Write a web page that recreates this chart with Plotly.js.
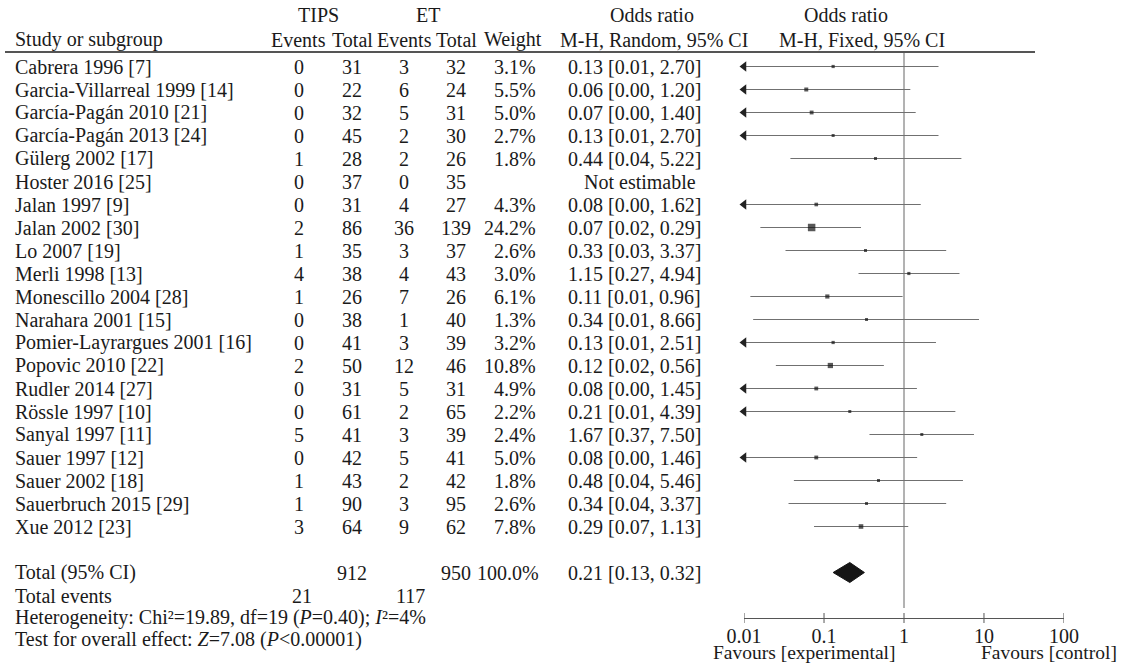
<!DOCTYPE html>
<html><head><meta charset="utf-8">
<script src="https://cdn.plot.ly/plotly-3.0.1.min.js"></script>
<style>html,body{margin:0;padding:0;background:#fff}#chart{width:1121px;height:665px}</style>
</head><body><div id="chart"></div>
<script>
// ---------------- data ----------------
const studies = ['Cabrera 1996 [7]','Garcia-Villarreal 1999 [14]','García-Pagán 2010 [21]','García-Pagán 2013 [24]',
  'Gülerg 2002 [17]','Hoster 2016 [25]','Jalan 1997 [9]','Jalan 2002 [30]','Lo 2007 [19]','Merli 1998 [13]',
  'Monescillo 2004 [28]','Narahara 2001 [15]','Pomier-Layrargues 2001 [16]','Popovic 2010 [22]','Rudler 2014 [27]',
  'Rössle 1997 [10]','Sanyal 1997 [11]','Sauer 1997 [12]','Sauer 2002 [18]','Sauerbruch 2015 [29]','Xue 2012 [23]'];
const tipsEvents = [0,0,0,0,1,0,0,2,1,4,1,0,0,2,0,0,5,0,1,1,3];
const tipsTotal  = [31,22,32,45,28,37,31,86,35,38,26,38,41,50,31,61,41,42,43,90,64];
const etEvents   = [3,6,5,2,2,0,4,36,3,4,7,1,3,12,5,2,3,5,2,3,9];
const etTotal    = [32,24,31,30,26,35,27,139,37,43,26,40,39,46,31,65,39,41,42,95,62];
const weights    = [3.1,5.5,5.0,2.7,1.8,null,4.3,24.2,2.6,3.0,6.1,1.3,3.2,10.8,4.9,2.2,2.4,5.0,1.8,2.6,7.8];
const orText = ['0.13 [0.01, 2.70]','0.06 [0.00, 1.20]','0.07 [0.00, 1.40]','0.13 [0.01, 2.70]','0.44 [0.04, 5.22]',
  'Not estimable','0.08 [0.00, 1.62]','0.07 [0.02, 0.29]','0.33 [0.03, 3.37]','1.15 [0.27, 4.94]','0.11 [0.01, 0.96]',
  '0.34 [0.01, 8.66]','0.13 [0.01, 2.51]','0.12 [0.02, 0.56]','0.08 [0.00, 1.45]','0.21 [0.01, 4.39]','1.67 [0.37, 7.50]',
  '0.08 [0.00, 1.46]','0.48 [0.04, 5.46]','0.34 [0.04, 3.37]','0.29 [0.07, 1.13]'];
const orValue = [0.13,0.06,0.07,0.13,0.44,null,0.08,0.07,0.33,1.15,0.11,0.34,0.13,0.12,0.08,0.21,1.67,0.08,0.48,0.34,0.29];
// lower limits as they sit in the picture (below 0.01 => drawn as an arrow)
const ciLower = [0.006,0.003,0.004,0.006,0.038,null,0.004,0.016,0.033,0.27,0.012,0.013,0.007,0.025,0.004,0.008,0.37,0.004,0.042,0.036,0.075];
const ciUpper = [2.70,1.20,1.40,2.70,5.22,null,1.62,0.29,3.37,4.94,0.96,8.66,2.51,0.56,1.45,4.39,7.50,1.46,5.46,3.37,1.13];

const totalLabel = 'Total (95% CI)';
const totalTips = '912', totalEt = '950', totalWeight = '100.0%', totalOrText = '0.21 [0.13, 0.32]';
const pooled = [0.13, 0.21, 0.32];          // lower, estimate, upper
const totalEventsLabel = 'Total events';
const totalEventsTips = '21', totalEventsEt = '117';
const heterogeneity = 'Heterogeneity: Chi²=19.89, df=19 (<i>P</i>=0.40); <i>I</i>²=4%';
const overall = 'Test for overall effect: <i>Z</i>=7.08 (<i>P</i>&lt;0.00001)';
const tickVals = [0.01, 0.1, 1, 10, 100];
const tickText = ['0.01', '0.1', '1', '10', '100'];
const favours = ['Favours [experimental]', 'Favours [control]'];

// ---------------- geometry / style ----------------
const W = 1121, H = 665, ROW = 23, TOP = 66.5;
const yv = px => (TOP - px) / ROW;      // pixel row -> y value
const xp = px => px / W;                // pixel column -> paper
const FONT = 'Liberation Serif, Times New Roman, Times, serif';
const FS = 20, INK = '#1a1a1a';
const X0 = 744, X1 = 1064;               // 0.01 .. 100
const AXIS_Y = 618;

const ann = [];
function t(x, y, text, anchor, size, yanchor, yref) {
  ann.push({xref: 'paper', yref: yref || 'y', x: xp(x), y: y, text: String(text), showarrow: false,
    xanchor: anchor || 'center', yanchor: yanchor || 'middle', font: {family: FONT, size: size || FS, color: INK}});
}
const COL = {name: 13, tE: 299, tT: 352, eE: 404, eT: 456, w: 538, or: 634};

// header
t(318, yv(14.5), 'TIPS'); t(428, yv(14.5), 'ET');
t(652, yv(14.5), 'Odds ratio'); t(846, yv(14.5), 'Odds ratio');
t(COL.name, yv(39.5), 'Study or subgroup', 'left');
t(COL.tE, yv(39.5), 'Events'); t(COL.tT, yv(39.5), 'Total');
t(COL.eE, yv(39.5), 'Events'); t(COL.eT, yv(39.5), 'Total');
t(513, yv(39.5), 'Weight');
t(654, yv(39.5), 'M-H, Random, 95% CI'); t(862, yv(39.5), 'M-H, Fixed, 95% CI');

studies.forEach((s, i) => {
  const y = -i;
  t(COL.name, y, s, 'left');
  t(COL.tE, y, tipsEvents[i]); t(COL.tT, y, tipsTotal[i]);
  t(COL.eE, y, etEvents[i]); t(COL.eT, y, etTotal[i]);
  if (weights[i] !== null) t(COL.w, y, weights[i].toFixed(1) + '%', 'right');
  t(orValue[i] === null ? 640 : COL.or, y, orText[i]);
});
const yTot = -(studies.length + 1);
t(COL.name, yTot, totalLabel, 'left');
t(COL.tT, yTot, totalTips); t(COL.eT, yTot, totalEt);
t(COL.w + 3, yTot, totalWeight, 'right'); t(COL.or, yTot, totalOrText);
t(COL.name, yTot - 1, totalEventsLabel, 'left');
t(COL.tE + 3, yTot - 1, totalEventsTips); t(COL.eE + 6, yTot - 1, totalEventsEt);
t(COL.name, yv(617.5), heterogeneity, 'left');
t(COL.name, yv(639.5), overall, 'left');
t(804, 0, favours[0], 'center', 19.5, 'bottom', 'paper');
t(1119, 0, favours[1], 'right', 19.5, 'bottom', 'paper');

// ---------------- traces ----------------
const ciX = [], ciY = [], arX = [], arY = [], sqX = [], sqY = [], sqS = [];
studies.forEach((s, i) => {
  if (orValue[i] === null) return;
  ciX.push(Math.max(ciLower[i], 0.01), ciUpper[i], null);
  ciY.push(-i, -i, null);
  if (ciLower[i] < 0.01) { arX.push(0.01); arY.push(-i); }
  sqX.push(orValue[i]); sqY.push(-i);
  sqS.push(Math.max(3, 0.8 + 1.36 * Math.sqrt(weights[i])));
});
const dh = 10 / ROW;
const diamond = {
  x: [pooled[0], pooled[1], pooled[2], pooled[1], pooled[0]],
  y: [yTot, yTot + dh, yTot, yTot - dh, yTot],
  mode: 'lines', fill: 'toself', fillcolor: '#151515', line: {color: '#151515', width: 1},
  hoverinfo: 'skip'
};
const tickX = [], tickY = [];
tickVals.forEach(v => { tickX.push(v, v, null); tickY.push(yv(AXIS_Y - 5), yv(AXIS_Y + 5), null); });

const traces = [
  {x: [1, 1], y: [yv(53), yv(608)], mode: 'lines', line: {color: '#666', width: 1}, hoverinfo: 'skip'},
  {x: ciX, y: ciY, mode: 'lines', line: {color: '#707070', width: 1}, hoverinfo: 'skip'},
  {x: arX, y: arY, mode: 'markers', cliponaxis: false,
   marker: {symbol: 'triangle-left', size: 9, color: '#222', line: {width: 0}}, hoverinfo: 'skip'},
  {x: sqX, y: sqY, mode: 'markers', marker: {symbol: 'square', size: sqS, color: '#111', line: {width: 0}}, hoverinfo: 'skip'},
  diamond,
  {x: tickX, y: tickY, mode: 'lines', cliponaxis: false, line: {color: '#555', width: 1}, hoverinfo: 'skip'}
];

const layout = {
  width: W, height: H, margin: {l: 0, r: 0, t: 0, b: 0, pad: 0},
  paper_bgcolor: '#fff', plot_bgcolor: 'rgba(0,0,0,0)', showlegend: false,
  xaxis: {type: 'log', range: [Math.log10(0.00999), Math.log10(100.1)], domain: [xp(X0), xp(X1)],
    anchor: 'free', position: (H - AXIS_Y) / H, showline: true, linecolor: '#555', linewidth: 1,
    ticks: '', tickmode: 'array', tickvals: tickVals, ticktext: tickText, ticklabelstandoff: 0,
    tickfont: {family: FONT, size: FS, color: INK}, showgrid: false, zeroline: false, fixedrange: true},
  yaxis: {range: [yv(H), yv(0)], domain: [0, 1], visible: false, fixedrange: true},
  shapes: [{type: 'line', xref: 'paper', yref: 'y', x0: xp(5), x1: xp(1035), y0: yv(52), y1: yv(52),
    line: {color: '#555', width: 2}}],
  annotations: ann
};
Plotly.newPlot('chart', traces, layout, {displayModeBar: false, staticPlot: true});
</script>
</body></html>
